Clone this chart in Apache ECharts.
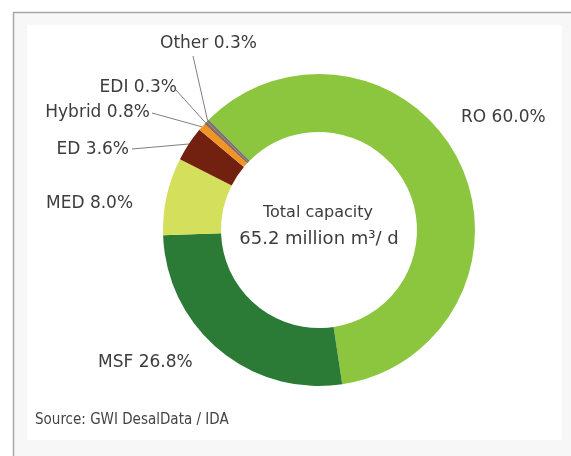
<!DOCTYPE html>
<html>
<head>
<meta charset="utf-8">
<script src="https://cdn.jsdelivr.net/npm/echarts@6/dist/echarts.min.js"></script>
<style>
  html, body { margin: 0; padding: 0; background: #ffffff; }
  #chart { width: 571px; height: 456px; }
</style>
</head>
<body>
<div id="chart"></div>
<script>
// Desalination capacity by technology (share of total, %)
const technologies = ['RO', 'MSF', 'MED', 'ED', 'Hybrid', 'EDI', 'Other'];
const shares = [60.0, 26.8, 8.0, 3.6, 0.8, 0.3, 0.3];
const sliceColors = ['#8cc63f', '#2b7a35', '#d4df5b', '#72200f', '#f29424', '#8a6a58', '#7b7373'];

const totalCapacityTitle = 'Total capacity';
const totalCapacityValue = '65.2 million m³/ d';
const sourceNote = 'Source: GWI DesalData / IDA';

// Where each slice label sits: [x, y, align, leader end dx, leader end dy]
const labelSpots = [
  [461, 118, 'left', 0, 0],
  [98, 363, 'left', 0, 0],
  [46, 204, 'left', 0, 0],
  [129, 150, 'right', 3, -1],
  [150, 113, 'right', 2, 0],
  [177, 88, 'right', -1, 2],
  [160, 44, 'left', 33, 12]
];
const showLeader = [false, false, false, true, true, true, true];

const chart = echarts.init(document.getElementById('chart'), null, { renderer: 'canvas' });

const labelFont = '"DejaVu Sans", sans-serif';

chart.setOption({
  backgroundColor: '#ffffff',
  animation: false,
  graphic: [
    // framed panel
    { type: 'rect', shape: { x: 13, y: 12, width: 570, height: 460 },
      style: { fill: '#f7f7f7', stroke: null }, z: -10 },
    { type: 'rect', shape: { x: 27, y: 25, width: 535, height: 415 },
      style: { fill: '#ffffff', stroke: null }, z: -9 },
    { type: 'line', shape: { x1: 13, y1: 12.5, x2: 571, y2: 12.5 },
      style: { stroke: '#a8a8a8', lineWidth: 1.5 }, z: -8 },
    { type: 'line', shape: { x1: 13.5, y1: 12, x2: 13.5, y2: 456 },
      style: { stroke: '#a8a8a8', lineWidth: 1.5 }, z: -8 },
    // centre caption
    { type: 'text', style: {
        x: 318, y: 213, text: totalCapacityTitle, align: 'center', verticalAlign: 'middle',
        font: '16px ' + labelFont, fill: '#3c3c3c' } },
    { type: 'text', style: {
        x: 319, y: 239, text: totalCapacityValue, align: 'center', verticalAlign: 'middle',
        font: '18px ' + labelFont, fill: '#3c3c3c' } },
    // source note
    { type: 'text', style: {
        x: 35, y: 420, text: sourceNote, align: 'left', verticalAlign: 'middle',
        font: '15px "DejaVu Sans Condensed", "Liberation Sans Narrow", sans-serif', fill: '#444444' } }
  ],
  series: [{
    type: 'pie',
    center: [319, 230],
    radius: [98, 156],
    startAngle: 135,
    clockwise: true,
    avoidLabelOverlap: false,
    silent: true,
    label: {
      show: true,
      position: 'outside',
      fontFamily: labelFont,
      fontSize: 17,
      color: '#3c3c3c',
      formatter: p => p.name + ' ' + p.value.toFixed(1) + '%'
    },
    labelLine: {
      show: true,
      lineStyle: { color: '#808080', width: 1 }
    },
    labelLayout: params => {
      const s = labelSpots[params.dataIndex];
      const out = { x: s[0], y: s[1], align: s[2], verticalAlign: 'middle' };
      const pts = params.labelLinePoints;
      if (showLeader[params.dataIndex] && pts && pts.length) {
        // straight leader from the slice's outer edge to the label
        out.labelLinePoints = [pts[0], [s[0] + s[3], s[1] + s[4]]];
      }
      return out;
    },
    data: technologies.map((name, i) => ({
      name: name,
      value: shares[i],
      itemStyle: { color: sliceColors[i] },
      labelLine: { show: showLeader[i] }
    }))
  }]
});
</script>
</body>
</html>
